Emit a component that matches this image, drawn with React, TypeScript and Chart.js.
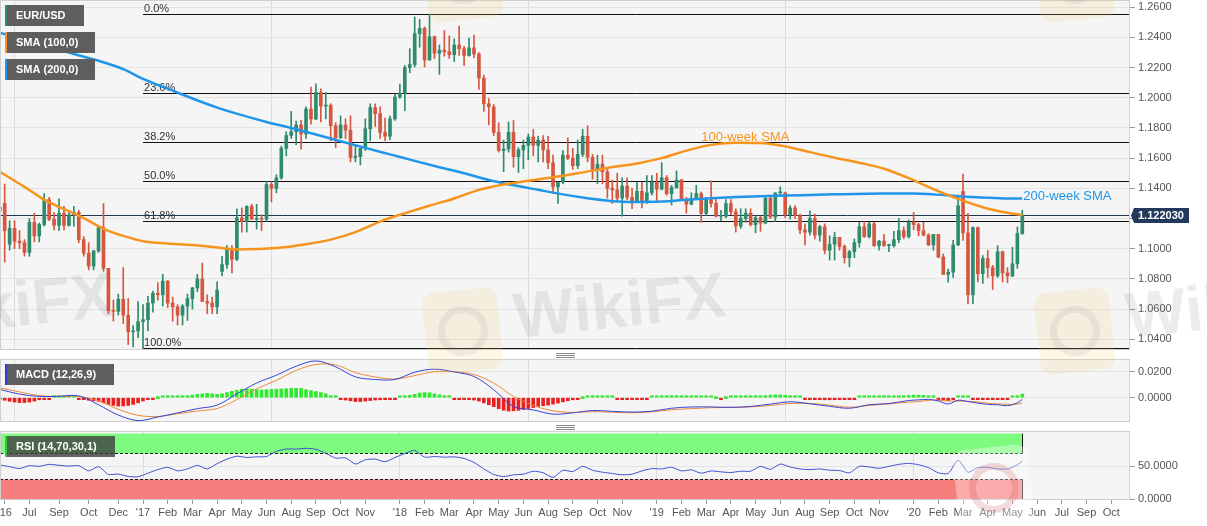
import React, { useEffect, useRef } from 'react';
import { Chart, registerables } from 'chart.js';

Chart.register(...registerables);

const FONT = '"Liberation Sans", Arial, Helvetica, sans-serif';
const WIDTH = 1207;
const AXIS_WIDTH = 77;
const PANEL_BG = '#f5f5f5';
const UP = '#2e8b6d';
const DOWN = '#d5573f';
const SMA100_COLOR = '#f7941d';
const SMA200_COLOR = '#2196e8';

// week numbers count from the first week of 2017 (= 0); the first candle is mid-June 2016
const firstWeek = -29;
const xMin = -28.95;
const xMax = 199.8;

// weekly EUR/USD candles, Jun 2016 .. Jun 2020
const weekOpen = [
  1.1250, 1.1300, 1.1030, 1.1135, 1.1050, 1.1040, 1.0975, 1.1175, 1.1085, 1.1160, 1.1325, 1.1195, 1.1155, 1.1235, 1.1155, 1.1225, 1.1240, 1.1060, 1.0970, 1.0885, 1.0985, 1.1140, 1.0870, 1.0590, 1.0585, 1.0665, 1.0560, 1.0450, 1.0455,
  1.0517, 1.0530, 1.0640, 1.0705, 1.0695, 1.0785, 1.0640, 1.0615, 1.0560, 1.0620, 1.0670, 1.0740, 1.0800, 1.0650, 1.0640, 1.0615, 1.0850, 1.0895, 1.0995, 1.0930, 1.1205, 1.1180, 1.1280, 1.1195, 1.1200, 1.1195, 1.1425, 1.1400, 1.1470, 1.1665, 1.1750, 1.1775, 1.1820, 1.1760, 1.1925, 1.1860, 1.2035, 1.1945, 1.1950, 1.1815, 1.1735, 1.1820, 1.1785, 1.1605, 1.1610, 1.1665, 1.1795, 1.1935, 1.1895, 1.1770, 1.1745, 1.1860,
  1.2005, 1.2030, 1.2200, 1.2220, 1.2425, 1.2460, 1.2250, 1.2405, 1.2295, 1.2315, 1.2305, 1.2285, 1.2350, 1.2325, 1.2280, 1.2330, 1.2290, 1.2130, 1.1960, 1.1940, 1.1770, 1.1650, 1.1660, 1.1770, 1.1610, 1.1655, 1.1685, 1.1740, 1.1685, 1.1720, 1.1655, 1.1570, 1.1410, 1.1440, 1.1620, 1.1600, 1.1550, 1.1625, 1.1745, 1.1605, 1.1525, 1.1560, 1.1510, 1.1400, 1.1390, 1.1335, 1.1415, 1.1340, 1.1315, 1.1380, 1.1305, 1.1370,
  1.1440, 1.1395, 1.1470, 1.1365, 1.1405, 1.1455, 1.1325, 1.1295, 1.1335, 1.1365, 1.1235, 1.1325, 1.1300, 1.1215, 1.1215, 1.1300, 1.1245, 1.1150, 1.1200, 1.1235, 1.1160, 1.1205, 1.1170, 1.1335, 1.1210, 1.1370, 1.1370, 1.1225, 1.1270, 1.1220, 1.1125, 1.1110, 1.1200, 1.1090, 1.1145, 1.0990, 1.1030, 1.1075, 1.1015, 1.0940, 1.0980, 1.1040, 1.1145, 1.1080, 1.1165, 1.1020, 1.1050, 1.1020, 1.1020, 1.1060, 1.1120, 1.1080,
  1.1175, 1.1160, 1.1120, 1.1090, 1.1025, 1.1095, 1.0945, 1.0830, 1.0845, 1.1025, 1.1380, 1.1105, 1.0695, 1.1140, 1.0835, 1.0935, 1.0875, 1.0820, 1.0980, 1.0840, 1.0820, 1.0900, 1.1100,
];
const weekHigh = [
  1.1300, 1.1428, 1.1185, 1.1185, 1.1120, 1.1060, 1.1200, 1.1235, 1.1170, 1.1365, 1.1340, 1.1240, 1.1330, 1.1280, 1.1255, 1.1280, 1.1255, 1.1080, 1.1040, 1.0990, 1.1145, 1.1300, 1.0860, 1.0660, 1.0700, 1.0875, 1.0670, 1.0490, 1.0650,
  1.0630, 1.0685, 1.0720, 1.0775, 1.0830, 1.0790, 1.0680, 1.0630, 1.0630, 1.0700, 1.0745, 1.0830, 1.0905, 1.0695, 1.0680, 1.0780, 1.0950, 1.1020, 1.1020, 1.1265, 1.1270, 1.1285, 1.1295, 1.1295, 1.1225, 1.1445, 1.1445, 1.1490, 1.1680, 1.1775, 1.1910, 1.1845, 1.1850, 1.1940, 1.2070, 1.2092, 1.2060, 1.2035, 1.1960, 1.1835, 1.1880, 1.1860, 1.1880, 1.1690, 1.1665, 1.1860, 1.1960, 1.1960, 1.1940, 1.1865, 1.1880, 1.2025,
  1.2090, 1.2215, 1.2325, 1.2535, 1.2520, 1.2470, 1.2555, 1.2410, 1.2350, 1.2445, 1.2410, 1.2390, 1.2475, 1.2340, 1.2395, 1.2415, 1.2300, 1.2150, 1.1995, 1.1955, 1.1835, 1.1720, 1.1840, 1.1850, 1.1670, 1.1720, 1.1760, 1.1790, 1.1745, 1.1750, 1.1745, 1.1620, 1.1445, 1.1650, 1.1735, 1.1665, 1.1720, 1.1790, 1.1815, 1.1625, 1.1620, 1.1620, 1.1530, 1.1455, 1.1500, 1.1470, 1.1470, 1.1400, 1.1440, 1.1440, 1.1485, 1.1485,
  1.1500, 1.1570, 1.1485, 1.1420, 1.1515, 1.1460, 1.1340, 1.1370, 1.1420, 1.1375, 1.1340, 1.1450, 1.1325, 1.1255, 1.1325, 1.1325, 1.1265, 1.1265, 1.1265, 1.1265, 1.1215, 1.1215, 1.1350, 1.1350, 1.1370, 1.1410, 1.1375, 1.1285, 1.1285, 1.1230, 1.1165, 1.1250, 1.1230, 1.1155, 1.1165, 1.1085, 1.1110, 1.1075, 1.1025, 1.0990, 1.1065, 1.1175, 1.1180, 1.1175, 1.1175, 1.1055, 1.1095, 1.1030, 1.1115, 1.1200, 1.1145, 1.1190,
  1.1240, 1.1170, 1.1175, 1.1100, 1.1095, 1.1095, 1.0965, 1.0865, 1.1055, 1.1355, 1.1495, 1.1235, 1.1145, 1.1145, 1.0955, 1.0990, 1.0890, 1.1020, 1.0985, 1.0875, 1.1010, 1.1145, 1.1255,
];
const weekLow = [
  1.1130, 1.0912, 1.0990, 1.1000, 1.1000, 1.0950, 1.0950, 1.1045, 1.1045, 1.1150, 1.1185, 1.1125, 1.1120, 1.1125, 1.1150, 1.1150, 1.1040, 1.0950, 1.0860, 1.0860, 1.0975, 1.0850, 1.0570, 1.0520, 1.0560, 1.0505, 1.0365, 1.0350, 1.0410,
  1.0340, 1.0455, 1.0580, 1.0660, 1.0620, 1.0610, 1.0520, 1.0495, 1.0495, 1.0525, 1.0600, 1.0715, 1.0650, 1.0570, 1.0570, 1.0570, 1.0820, 1.0870, 1.0840, 1.0920, 1.1110, 1.1110, 1.1195, 1.1130, 1.1120, 1.1180, 1.1310, 1.1370, 1.1460, 1.1615, 1.1730, 1.1690, 1.1660, 1.1730, 1.1825, 1.1855, 1.1840, 1.1860, 1.1715, 1.1670, 1.1730, 1.1730, 1.1575, 1.1575, 1.1555, 1.1650, 1.1715, 1.1810, 1.1730, 1.1715, 1.1720, 1.1850,
  1.1995, 1.1915, 1.2165, 1.2205, 1.2335, 1.2205, 1.2250, 1.2260, 1.2155, 1.2275, 1.2260, 1.2240, 1.2280, 1.2215, 1.2275, 1.2265, 1.2055, 1.1910, 1.1820, 1.1750, 1.1640, 1.1510, 1.1640, 1.1540, 1.1505, 1.1530, 1.1590, 1.1615, 1.1575, 1.1575, 1.1530, 1.1365, 1.1300, 1.1430, 1.1590, 1.1525, 1.1530, 1.1610, 1.1575, 1.1460, 1.1430, 1.1430, 1.1335, 1.1300, 1.1315, 1.1215, 1.1325, 1.1265, 1.1315, 1.1270, 1.1300, 1.1355,
  1.1310, 1.1390, 1.1355, 1.1290, 1.1400, 1.1320, 1.1235, 1.1290, 1.1325, 1.1175, 1.1220, 1.1275, 1.1210, 1.1185, 1.1205, 1.1225, 1.1110, 1.1135, 1.1175, 1.1150, 1.1105, 1.1115, 1.1165, 1.1200, 1.1180, 1.1350, 1.1205, 1.1195, 1.1200, 1.1100, 1.1025, 1.1090, 1.1065, 1.1050, 1.0965, 1.0925, 1.0925, 1.0990, 1.0905, 1.0880, 1.0940, 1.1010, 1.1075, 1.1070, 1.1015, 1.0990, 1.1015, 1.0980, 1.1010, 1.1040, 1.1065, 1.1070,
  1.1125, 1.1085, 1.1085, 1.1020, 1.0990, 1.0940, 1.0830, 1.0778, 1.0810, 1.1020, 1.1055, 1.0635, 1.0636, 1.0780, 1.0770, 1.0810, 1.0730, 1.0810, 1.0780, 1.0775, 1.0815, 1.0870, 1.1095,
];
const weekClose = [
  1.1275, 1.1120, 1.1135, 1.1050, 1.1040, 1.0975, 1.1175, 1.1085, 1.1160, 1.1325, 1.1195, 1.1155, 1.1235, 1.1155, 1.1225, 1.1240, 1.1060, 1.0970, 1.0885, 1.0985, 1.1140, 1.0870, 1.0590, 1.0585, 1.0665, 1.0560, 1.0450, 1.0455, 1.0517,
  1.0530, 1.0640, 1.0705, 1.0695, 1.0785, 1.0640, 1.0615, 1.0560, 1.0620, 1.0670, 1.0740, 1.0800, 1.0650, 1.0640, 1.0615, 1.0725, 1.0895, 1.0995, 1.0930, 1.1205, 1.1180, 1.1280, 1.1195, 1.1200, 1.1195, 1.1425, 1.1400, 1.1470, 1.1665, 1.1750, 1.1775, 1.1820, 1.1760, 1.1925, 1.1860, 1.2035, 1.1945, 1.1950, 1.1815, 1.1735, 1.1820, 1.1785, 1.1605, 1.1610, 1.1665, 1.1795, 1.1935, 1.1895, 1.1770, 1.1745, 1.1860, 1.2005,
  1.2030, 1.2200, 1.2220, 1.2425, 1.2460, 1.2250, 1.2405, 1.2295, 1.2315, 1.2305, 1.2285, 1.2350, 1.2325, 1.2280, 1.2330, 1.2290, 1.2130, 1.1960, 1.1940, 1.1770, 1.1650, 1.1660, 1.1770, 1.1610, 1.1655, 1.1685, 1.1740, 1.1685, 1.1720, 1.1655, 1.1570, 1.1410, 1.1440, 1.1620, 1.1600, 1.1550, 1.1625, 1.1745, 1.1605, 1.1525, 1.1560, 1.1510, 1.1400, 1.1390, 1.1335, 1.1415, 1.1340, 1.1315, 1.1380, 1.1305, 1.1370, 1.1440,
  1.1395, 1.1470, 1.1365, 1.1405, 1.1455, 1.1325, 1.1295, 1.1335, 1.1365, 1.1235, 1.1325, 1.1300, 1.1215, 1.1215, 1.1300, 1.1245, 1.1150, 1.1200, 1.1235, 1.1160, 1.1205, 1.1170, 1.1335, 1.1210, 1.1370, 1.1370, 1.1225, 1.1270, 1.1220, 1.1125, 1.1110, 1.1200, 1.1090, 1.1145, 1.0990, 1.1030, 1.1075, 1.1015, 1.0940, 1.0980, 1.1040, 1.1145, 1.1080, 1.1165, 1.1020, 1.1050, 1.1020, 1.1020, 1.1060, 1.1120, 1.1080, 1.1175,
  1.1160, 1.1120, 1.1090, 1.1025, 1.1095, 1.0945, 1.0830, 1.0845, 1.1025, 1.1285, 1.1105, 1.0695, 1.1140, 1.0835, 1.0935, 1.0875, 1.0820, 1.0980, 1.0840, 1.0820, 1.0900, 1.1100, 1.1220,
];
const lastPrice = 1.12203;

// Fibonacci retracement of the Jan 2017 low .. Feb 2018 high
const fibHigh = 1.2555;
const fibLow = 1.034;
const fibRatios = [0, 0.236, 0.382, 0.5, 0.618, 1];
const fibStartWeek = 0;

// moving averages
const sma100Weeks = [-29, -24, -20, -16, -12, -8, -4, 0, 5, 10, 15, 19, 23, 28, 33, 38, 43, 48, 53, 58, 63, 68, 73, 78, 83, 88, 94, 100, 105, 110, 115, 120, 125, 130, 135, 140, 145, 150, 155, 160, 165, 170, 175, 178];
const sma100Values = [1.1510, 1.1410, 1.1325, 1.1262, 1.1203, 1.1132, 1.1085, 1.1050, 1.1035, 1.1025, 1.1008, 1.0995, 1.0998, 1.1008, 1.1030, 1.1060, 1.1110, 1.1180, 1.1235, 1.1285, 1.1333, 1.1390, 1.1425, 1.1450, 1.1473, 1.1500, 1.1535, 1.1565, 1.1600, 1.1650, 1.1688, 1.1702, 1.1700, 1.1678, 1.1640, 1.1603, 1.1570, 1.1530, 1.1468, 1.1395, 1.1330, 1.1275, 1.1238, 1.1223];
const sma200Weeks = [-29, -24, -19, -14, -9, -4, 0, 5, 10, 15, 20, 25, 30, 35, 40, 45, 50, 55, 60, 65, 70, 75, 80, 85, 90, 95, 100, 105, 110, 115, 120, 125, 130, 140, 150, 156, 160, 165, 170, 175, 178];
const sma200Values = [1.2430, 1.2390, 1.2340, 1.2290, 1.2245, 1.2190, 1.2125, 1.2060, 1.1995, 1.1935, 1.1885, 1.1840, 1.1800, 1.1757, 1.1712, 1.1668, 1.1625, 1.1582, 1.1540, 1.1500, 1.1455, 1.1420, 1.1390, 1.1360, 1.1335, 1.1315, 1.1310, 1.1312, 1.1325, 1.1335, 1.1342, 1.1348, 1.1352, 1.1360, 1.1365, 1.1365, 1.1360, 1.1348, 1.1340, 1.1333, 1.1332];
const sma100Note = { text: '100-week SMA', week: 113, price: 1.1714 };
const sma200Note = { text: '200-week SMA', week: 178.2, price: 1.1325 };

// MACD (12,26,9)
const macdWeeks = [-29, -25, -21, -17, -13, -9, -5, -1, 3, 7, 11, 15, 19, 23, 27, 31, 35, 39, 43, 47, 51, 55, 59, 63, 67, 71, 75, 79, 83, 87, 91, 95, 99, 103, 107, 111, 115, 119, 123, 127, 131, 135, 139, 143, 147, 151, 155, 157, 159, 161, 163, 165, 167, 169, 171, 173, 175, 177, 178];
const macdValues = [0.0065, 0.0028, 0.0010, 0.0011, 0.0014, -0.0055, -0.0135, -0.0178, -0.0150, -0.0118, -0.0085, -0.0058, 0.0030, 0.0114, 0.0175, 0.0245, 0.0286, 0.0240, 0.0162, 0.0142, 0.0142, 0.0198, 0.0222, 0.0200, 0.0165, 0.0062, -0.0068, -0.0095, -0.0128, -0.0118, -0.0100, -0.0106, -0.0112, -0.0105, -0.0082, -0.0072, -0.0072, -0.0075, -0.0068, -0.0050, -0.0032, -0.0047, -0.0067, -0.0082, -0.0055, -0.0045, -0.0022, -0.0017, -0.0013, -0.0025, -0.0049, -0.0020, -0.0030, -0.0042, -0.0052, -0.0055, -0.0062, -0.0040, -0.0013];
const signalValues = [0.0078, 0.0045, 0.0016, 0.0010, 0.0009, -0.0025, -0.0090, -0.0137, -0.0146, -0.0125, -0.0103, -0.0084, -0.0015, 0.0069, 0.0135, 0.0212, 0.0258, 0.0255, 0.0195, 0.0162, 0.0145, 0.0172, 0.0202, 0.0203, 0.0180, 0.0113, 0.0010, -0.0060, -0.0102, -0.0115, -0.0108, -0.0113, -0.0117, -0.0110, -0.0094, -0.0085, -0.0078, -0.0075, -0.0072, -0.0060, -0.0045, -0.0045, -0.0058, -0.0074, -0.0060, -0.0048, -0.0034, -0.0030, -0.0021, -0.0019, -0.0026, -0.0026, -0.0028, -0.0033, -0.0043, -0.0048, -0.0052, -0.0049, -0.0042];
// histogram, one value per candle
const histValues = [
  -0.0012, -0.0020, -0.0028, -0.0034, -0.0038, -0.0038, -0.0034, -0.0026, -0.0016, -0.0008, -0.0003, 0.0002, 0.0004, 0.0004, 0.0003, 0.0002, -0.0004, -0.0012, -0.0020, -0.0024, -0.0028, -0.0040, -0.0052, -0.0060, -0.0065, -0.0064, -0.0060, -0.0052, -0.0040,
  -0.0026, -0.0012, -0.0004, 0.0000, 0.0005, 0.0008, 0.0006, 0.0008, 0.0012, 0.0015, 0.0020, 0.0026, 0.0030, 0.0034, 0.0030, 0.0026, 0.0030, 0.0040, 0.0050, 0.0058, 0.0065, 0.0068, 0.0065, 0.0062, 0.0060, 0.0062, 0.0064, 0.0066, 0.0068, 0.0070, 0.0072, 0.0073, 0.0072, 0.0062, 0.0055, 0.0048, 0.0040, 0.0030, 0.0016, 0.0004, -0.0010, -0.0018, -0.0024, -0.0030, -0.0030, -0.0026, -0.0022, -0.0018, -0.0016, -0.0014, -0.0010, -0.0005,
  0.0003, 0.0010, 0.0018, 0.0026, 0.0036, 0.0040, 0.0038, 0.0030, 0.0022, 0.0012, 0.0004, -0.0002, -0.0006, -0.0010, -0.0014, -0.0018, -0.0026, -0.0040, -0.0055, -0.0070, -0.0085, -0.0098, -0.0104, -0.0102, -0.0098, -0.0092, -0.0084, -0.0076, -0.0068, -0.0062, -0.0058, -0.0050, -0.0042, -0.0032, -0.0024, -0.0016, -0.0008, 0.0000, 0.0006, 0.0008, 0.0008, 0.0007, 0.0005, 0.0002, -0.0006, -0.0010, -0.0012, -0.0012, -0.0011, -0.0008, -0.0002,
  0.0008, 0.0012, 0.0015, 0.0016, 0.0014, 0.0010, 0.0006, 0.0004, 0.0003, 0.0002, 0.0001, 0.0002, 0.0001, 0.0000, -0.0002, 0.0000, 0.0001, 0.0002, 0.0003, 0.0004, 0.0005, 0.0008, 0.0012, 0.0016, 0.0020, 0.0022, 0.0022, 0.0018, 0.0012, 0.0006, 0.0002, -0.0002, -0.0006, -0.0010, -0.0014, -0.0016, -0.0016, -0.0015, -0.0014, -0.0012, -0.0010, -0.0006, 0.0002, 0.0006, 0.0008, 0.0008, 0.0009, 0.0010, 0.0011, 0.0012, 0.0014, 0.0016,
  0.0018, 0.0020, 0.0020, 0.0018, 0.0014, 0.0008, -0.0008, -0.0018, -0.0022, -0.0010, 0.0008, 0.0010, 0.0004, -0.0006, -0.0010, -0.0012, -0.0012, -0.0011, -0.0010, -0.0010, -0.0008, 0.0002, 0.0008, 0.0028,
];

// RSI (14)
const rsiWeeks = [
  -29, -27, -25, -23, -21, -19, -17, -15, -13, -11, -9, -7, -5, -3, -1,
  1, 3, 5, 7, 9, 11, 13, 15, 17, 19, 21, 23, 25, 27, 29, 31, 33, 35, 37, 39, 41, 43, 45, 47, 49, 51,
  53, 55, 57, 59, 61, 63, 65, 67, 69, 71, 73, 75, 77, 79, 81, 83, 85, 87, 89, 91, 93, 95, 97, 99, 101, 103,
  105, 107, 109, 111, 113, 115, 117, 119, 121, 123, 125, 127, 129, 131, 133, 135, 137, 139, 141, 143, 145, 147, 149, 151, 153, 155,
  157, 159, 161, 163, 165, 167, 169, 171, 173, 175, 177, 178,
];
const rsiValues = [
  52, 49.5, 46.5, 51, 50, 53, 51.5, 50.4, 51, 43, 49.5, 37.5, 38.2, 34.5, 34,
  39.5, 45, 48.5, 43, 46, 51.5, 46, 54, 61, 65.5, 63.5, 64.5, 65, 73, 76.4, 76.4, 77.5, 76, 70, 62.5, 63, 53.5, 60, 61, 57, 63.5,
  69.5, 74.5, 64, 65, 64, 64.5, 62, 56, 46, 37.5, 34.3, 37, 38, 42.5, 40.2, 33, 44, 42, 50, 44, 41, 39, 37, 38, 43, 46.5,
  46, 48.5, 43, 44.5, 39.5, 43, 41.5, 40.5, 42.5, 42.5, 50, 45.4, 53.5, 49, 46, 45, 46, 44, 43.5, 40, 50, 49, 47, 50, 53, 54.5,
  52.5, 48, 40, 39, 59.5, 41, 48, 48.5, 46, 46, 52, 58,
];
const rsiUpper = 70;
const rsiLower = 30;

// axes
const priceTicks = [1.04, 1.06, 1.08, 1.10, 1.12, 1.14, 1.16, 1.18, 1.20, 1.22, 1.24, 1.26];
const macdTicks = [0, 0.02];
const rsiTicks = [0, 50];
const yearWeeks = [0, 52, 104, 156];
const xTickWeeks = [-28, -23, -17, -11, -5, 0, 5, 10, 15, 20, 25, 30, 35, 40, 45, 52, 57, 62, 67, 72, 77, 82, 87, 92, 97, 104, 109, 114, 119, 124, 129, 134, 139, 144, 149, 156, 161, 166, 171, 176, 181, 186, 191, 196];
const xTickLabels = ["'16", 'Jul', 'Sep', 'Oct', 'Dec', "'17", 'Feb', 'Mar', 'Apr', 'May', 'Jun', 'Aug', 'Sep', 'Oct', 'Nov', "'18", 'Feb', 'Mar', 'Apr', 'May', 'Jun', 'Aug', 'Sep', 'Oct', 'Nov', "'19", 'Feb', 'Mar', 'Apr', 'May', 'Jun', 'Aug', 'Sep', 'Oct', 'Nov', "'20", 'Feb', 'Mar', 'Apr', 'May', 'Jun', 'Jul', 'Sep', 'Oct'];

const candleWeeks = weekClose.map((_, k) => firstWeek + k);
const candleColors = weekClose.map((c, k) => (c >= weekOpen[k] ? UP : DOWN));

function xScale(withLabels: boolean): any {
  return {
    type: 'linear',
    min: xMin,
    max: xMax,
    offset: false,
    afterBuildTicks: (s: any) => {
      s.ticks = (withLabels ? xTickWeeks : yearWeeks).map((v) => ({ value: v }));
    },
    afterFit: (s: any) => {
      s.height = withLabels ? 26 : 0;
      s.paddingLeft = 0;
      s.paddingRight = 0;
    },
    ticks: {
      display: withLabels,
      autoSkip: false,
      maxRotation: 0,
      padding: 2,
      color: '#555',
      font: { family: FONT, size: 11 },
      callback: (v: number) => xTickLabels[xTickWeeks.indexOf(v)] ?? '',
    },
    grid: {
      color: (c: any) => (c.tick && yearWeeks.includes(c.tick.value) ? '#dcdcdc' : 'rgba(0,0,0,0)'),
      tickColor: '#999',
      drawTicks: withLabels,
      tickLength: 4,
    },
    border: { display: false },
  };
}

function yScale(min: number, max: number, ticks: number[]): any {
  return {
    position: 'right',
    min,
    max,
    afterBuildTicks: (s: any) => {
      s.ticks = ticks.map((v) => ({ value: v }));
    },
    afterFit: (s: any) => {
      s.width = AXIS_WIDTH;
      s.paddingTop = 0;
      s.paddingBottom = 0;
    },
    ticks: {
      color: '#555',
      padding: 3,
      font: { family: FONT, size: 11 },
      callback: (v: number) => Number(v).toFixed(4),
    },
    grid: { color: '#e3e3e3', tickColor: '#999', tickLength: 5 },
    border: { display: false },
  };
}

const panelPlugin = {
  id: 'panel',
  beforeDraw(chart: any) {
    const { ctx, chartArea: a, width, height } = chart;
    ctx.save();
    ctx.fillStyle = '#ffffff';
    ctx.fillRect(0, 0, width, height);
    ctx.fillStyle = PANEL_BG;
    ctx.fillRect(a.left, a.top, a.right - a.left, a.bottom - a.top);
    ctx.restore();
  },
  afterDraw(chart: any) {
    const { ctx, chartArea: a } = chart;
    ctx.save();
    ctx.strokeStyle = '#cfcfcf';
    ctx.lineWidth = 1;
    ctx.strokeRect(a.left + 0.5, a.top + 0.5, a.right - a.left - 1, a.bottom - a.top - 1);
    ctx.restore();
  },
};

function labelBox(ctx: CanvasRenderingContext2D, x: number, y: number, w: number, h: number, text: string, strip: string, bg: string) {
  ctx.fillStyle = bg;
  ctx.fillRect(x, y, w, h);
  ctx.fillStyle = strip;
  ctx.fillRect(x, y, 2, h);
  ctx.fillStyle = '#ffffff';
  ctx.font = `bold 11px ${FONT}`;
  ctx.textAlign = 'left';
  ctx.textBaseline = 'middle';
  ctx.fillText(text, x + 11, y + h / 2 + 0.5);
}

function handle(ctx: CanvasRenderingContext2D, y: number) {
  ctx.strokeStyle = '#8a8a8a';
  ctx.lineWidth = 1;
  for (let k = 0; k < 3; k++) {
    ctx.beginPath();
    ctx.moveTo(556, y + k * 2 + 0.5);
    ctx.lineTo(575, y + k * 2 + 0.5);
    ctx.stroke();
  }
}

const priceOverlay = {
  id: 'priceOverlay',
  beforeDatasetsDraw(chart: any) {
    const { ctx, chartArea: a, scales } = chart;
    const { x, y } = scales;
    ctx.save();
    ctx.beginPath();
    ctx.rect(a.left, a.top, a.right - a.left, a.bottom - a.top);
    ctx.clip();
    const x0 = x.getPixelForValue(fibStartWeek);
    ctx.font = `11px ${FONT}`;
    ctx.textAlign = 'left';
    ctx.textBaseline = 'alphabetic';
    fibRatios.forEach((r) => {
      const level = fibHigh - r * (fibHigh - fibLow);
      const py = Math.round(y.getPixelForValue(level)) + 0.5;
      ctx.strokeStyle = '#111';
      ctx.lineWidth = 1;
      ctx.beginPath();
      ctx.moveTo(x0, py);
      ctx.lineTo(a.right, py);
      ctx.stroke();
      ctx.fillStyle = '#333';
      ctx.fillText(`${(r * 100).toFixed(1)}%`, x0 + 1, py - 2.5);
    });
    const lp = Math.round(y.getPixelForValue(lastPrice)) + 0.5;
    ctx.strokeStyle = '#1f3553';
    ctx.beginPath();
    ctx.moveTo(a.left, lp);
    ctx.lineTo(a.right, lp);
    ctx.stroke();
    ctx.restore();
  },
  afterDraw(chart: any) {
    const { ctx, chartArea: a, scales } = chart;
    const { x, y } = scales;
    ctx.save();
    ctx.font = `13px ${FONT}`;
    ctx.textAlign = 'left';
    ctx.textBaseline = 'alphabetic';
    ctx.fillStyle = SMA100_COLOR;
    ctx.fillText(sma100Note.text, x.getPixelForValue(sma100Note.week), y.getPixelForValue(sma100Note.price));
    ctx.fillStyle = SMA200_COLOR;
    ctx.fillText(sma200Note.text, x.getPixelForValue(sma200Note.week), y.getPixelForValue(sma200Note.price));

    // last price tag on the axis
    const lp = Math.round(y.getPixelForValue(lastPrice));
    ctx.fillStyle = '#233a5c';
    ctx.beginPath();
    ctx.moveTo(a.right + 1, lp + 0.5);
    ctx.lineTo(a.right + 4, lp - 7);
    ctx.lineTo(a.right + 59, lp - 7);
    ctx.lineTo(a.right + 59, lp + 8);
    ctx.lineTo(a.right + 4, lp + 8);
    ctx.closePath();
    ctx.fill();
    ctx.fillStyle = '#ffffff';
    ctx.font = `bold 11px ${FONT}`;
    ctx.textBaseline = 'middle';
    ctx.fillText(lastPrice.toFixed(6), a.right + 8, lp + 1);

    labelBox(ctx, 5, 5, 79, 21, 'EUR/USD', UP, '#5e5e5e');
    labelBox(ctx, 5, 32, 90, 21, 'SMA (100,0)', SMA100_COLOR, '#5e5e5e');
    labelBox(ctx, 5, 59, 90, 21, 'SMA (200,0)', SMA200_COLOR, '#5e5e5e');
    ctx.restore();
  },
};

const macdOverlay = {
  id: 'macdOverlay',
  afterDraw(chart: any) {
    const { ctx } = chart;
    ctx.save();
    labelBox(ctx, 5, 13, 109, 21, 'MACD (12,26,9)', '#2b3ed0', '#5e5e5e');
    handle(ctx, 2);
    handle(ctx, 74);
    ctx.restore();
  },
};

const rsiOverlay = {
  id: 'rsiOverlay',
  beforeDatasetsDraw(chart: any) {
    const { ctx, chartArea: a, scales } = chart;
    const { x, y } = scales;
    const xe = Math.round(x.getPixelForValue(candleWeeks[candleWeeks.length - 1])) + 0.5;
    const y100 = y.getPixelForValue(100);
    const yUp = Math.round(y.getPixelForValue(rsiUpper)) + 0.5;
    const yLo = Math.round(y.getPixelForValue(rsiLower)) + 0.5;
    const y0 = y.getPixelForValue(0);
    ctx.save();
    ctx.fillStyle = 'rgb(126,250,126)';
    ctx.fillRect(a.left, y100, xe - a.left, yUp - y100);
    ctx.fillStyle = 'rgb(248,126,126)';
    ctx.fillRect(a.left, yLo, xe - a.left, y0 - yLo);
    ctx.strokeStyle = '#111';
    ctx.lineWidth = 1;
    ctx.setLineDash([3, 2]);
    ctx.beginPath();
    ctx.moveTo(a.left, yUp);
    ctx.lineTo(xe, yUp);
    ctx.moveTo(a.left, yLo);
    ctx.lineTo(xe, yLo);
    ctx.stroke();
    ctx.setLineDash([]);
    ctx.beginPath();
    ctx.moveTo(xe, y100);
    ctx.lineTo(xe, yUp);
    ctx.moveTo(xe, yLo);
    ctx.lineTo(xe, y0);
    ctx.stroke();
    ctx.restore();
  },
  afterDraw(chart: any) {
    const { ctx } = chart;
    ctx.save();
    labelBox(ctx, 5, 6, 110, 21, 'RSI (14,70,30,1)', '#3cc43c', 'rgba(62,62,62,0.8)');
    ctx.restore();
  },
};

const commonOptions = (padding: any) => ({
  responsive: false,
  animation: false as const,
  events: [] as any[],
  layout: { padding },
  plugins: { legend: { display: false }, tooltip: { enabled: false } },
});

// faint publisher watermark laid over the whole picture
function Watermark() {
  const tiles = [-612, 0, 612];
  const logo = (left: number, top: number, key: string, fill: string, ring: string) => (
    <div
      key={key}
      style={{
        position: 'absolute', left, top, width: 75, height: 82, borderRadius: 12,
        background: fill, transform: 'rotate(-6deg)',
      }}
    >
      <div
        style={{
          position: 'absolute', left: 13, top: 16, width: 36, height: 36, borderRadius: '50%',
          border: `7px solid ${ring}`,
        }}
      />
    </div>
  );
  return (
    <div style={{ position: 'absolute', left: 0, top: 0, width: WIDTH, height: 526, overflow: 'hidden', pointerEvents: 'none' }}>
      {tiles.map((dx) => logo(425 + dx, 290, `m${dx}`, 'rgba(240,205,110,0.16)', 'rgba(110,100,95,0.10)'))}
      {tiles.map((dx) => logo(425 + dx, -62, `t${dx}`, 'rgba(240,205,110,0.16)', 'rgba(110,100,95,0.10)'))}
      {tiles.map((dx) => (
        <div
          key={`w${dx}`}
          style={{
            position: 'absolute', left: 517 + dx, top: 284, fontFamily: FONT, fontWeight: 'bold',
            fontSize: 64, lineHeight: '64px', color: 'rgba(110,100,95,0.12)', whiteSpace: 'nowrap',
            transform: 'rotate(-6deg)', transformOrigin: '0 100%',
          }}
        >
          WikiFX
        </div>
      ))}
      {logo(956, 447, 'rsi', 'rgba(255,255,255,0.35)', 'rgba(200,60,60,0.18)')}
    </div>
  );
}

export default function App() {
  const priceRef = useRef<HTMLCanvasElement | null>(null);
  const macdRef = useRef<HTMLCanvasElement | null>(null);
  const rsiRef = useRef<HTMLCanvasElement | null>(null);

  useEffect(() => {
    if (!priceRef.current || !macdRef.current || !rsiRef.current) return;
    Chart.defaults.font.family = FONT;

    const priceChart = new Chart(priceRef.current, {
      type: 'bar',
      data: {
        datasets: [
          {
            type: 'line',
            data: sma100Weeks.map((w, k) => ({ x: w, y: sma100Values[k] })),
            borderColor: SMA100_COLOR,
            borderWidth: 2.5,
            pointRadius: 0,
            cubicInterpolationMode: 'monotone',
            order: 0,
          },
          {
            type: 'line',
            data: sma200Weeks.map((w, k) => ({ x: w, y: sma200Values[k] })),
            borderColor: SMA200_COLOR,
            borderWidth: 2.5,
            pointRadius: 0,
            cubicInterpolationMode: 'monotone',
            order: 0,
          },
          {
            type: 'bar',
            data: candleWeeks.map((w, k) => ({ x: w, y: [weekLow[k], weekHigh[k]] })),
            backgroundColor: candleColors,
            barThickness: 1,
            grouped: false,
            order: 2,
          },
          {
            type: 'bar',
            data: candleWeeks.map((w, k) => ({ x: w, y: [weekOpen[k], weekClose[k]] })),
            backgroundColor: candleColors,
            barThickness: 3,
            minBarLength: 1,
            grouped: false,
            order: 1,
          },
        ],
      } as any,
      options: {
        ...commonOptions({ top: 0, right: 0, bottom: 1, left: 0 }),
        scales: { x: xScale(false), y: yScale(1.0329, 1.26477, priceTicks) },
      } as any,
      plugins: [panelPlugin, priceOverlay],
    });

    const macdChart = new Chart(macdRef.current, {
      type: 'bar',
      data: {
        datasets: [
          {
            type: 'line',
            data: macdWeeks.map((w, k) => ({ x: w, y: macdValues[k] })),
            borderColor: '#3346d6',
            borderWidth: 1,
            pointRadius: 0,
            tension: 0.35,
            order: 0,
          },
          {
            type: 'line',
            data: macdWeeks.map((w, k) => ({ x: w, y: signalValues[k] })),
            borderColor: '#f0883a',
            borderWidth: 1,
            pointRadius: 0,
            tension: 0.35,
            order: 0,
          },
          {
            type: 'bar',
            data: candleWeeks.map((w, k) => ({ x: w, y: histValues[k] })),
            backgroundColor: histValues.map((v) => (v >= 0 ? '#2eea2e' : '#ea2020')),
            barThickness: 3,
            minBarLength: 2,
            grouped: false,
            order: 1,
          },
        ],
      } as any,
      options: {
        ...commonOptions({ top: 8, right: 0, bottom: 8, left: 0 }),
        scales: { x: xScale(false), y: yScale(-0.0189, 0.0301, macdTicks) },
      } as any,
      plugins: [panelPlugin, macdOverlay],
    });

    const rsiChart = new Chart(rsiRef.current, {
      type: 'line',
      data: {
        datasets: [
          {
            data: rsiWeeks.map((w, k) => ({ x: w, y: rsiValues[k] })),
            borderColor: '#3f52d4',
            borderWidth: 1,
            pointRadius: 0,
            tension: 0.2,
          },
        ],
      } as any,
      options: {
        ...commonOptions({ top: 1, right: 0, bottom: 0, left: 0 }),
        scales: { x: xScale(true), y: yScale(-1.5, 104, rsiTicks) },
      } as any,
      plugins: [panelPlugin, rsiOverlay],
    });

    return () => {
      priceChart.destroy();
      macdChart.destroy();
      rsiChart.destroy();
    };
  }, []);

  const canvasStyle = (top: number, height: number): React.CSSProperties => ({
    position: 'absolute',
    left: 0,
    top,
    width: WIDTH,
    height,
    display: 'block',
  });

  return (
    <div style={{ position: 'absolute', left: 0, top: 0, width: WIDTH, height: 526, background: '#ffffff', overflow: 'hidden' }}>
      <canvas ref={priceRef} width={WIDTH} height={351} style={canvasStyle(0, 351)} />
      <canvas ref={macdRef} width={WIDTH} height={79} style={canvasStyle(351, 79)} />
      <canvas ref={rsiRef} width={WIDTH} height={96} style={canvasStyle(430, 96)} />
      <Watermark />
    </div>
  );
}
